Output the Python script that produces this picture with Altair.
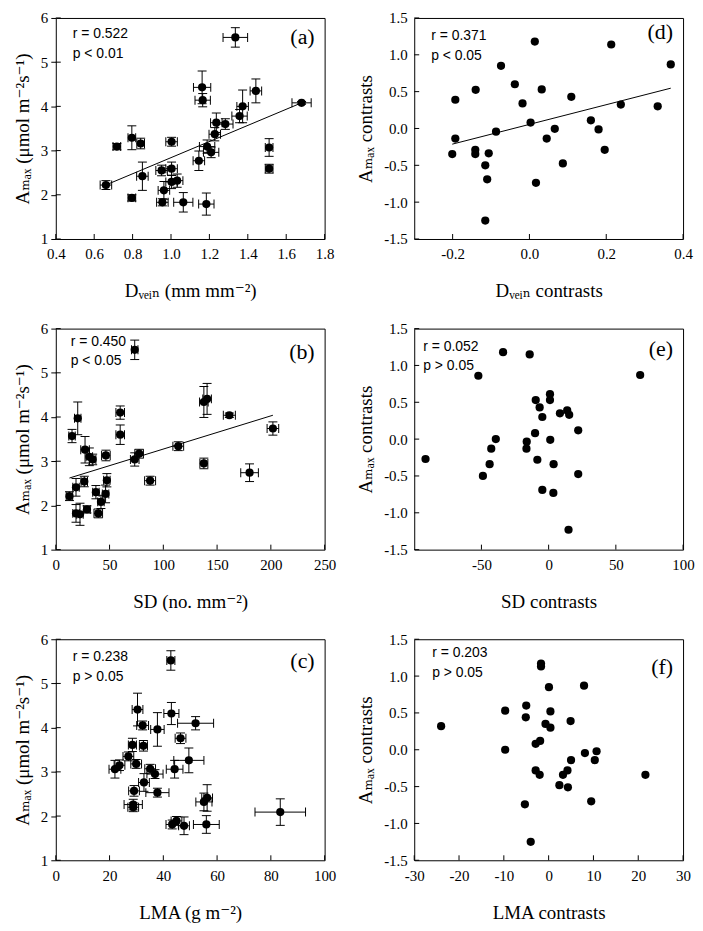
import altair as alt
import pandas as pd

# ---------------- data ----------------
# (a) A_max vs D_vein
a_x = [1.335, 1.162, 1.165, 1.442, 1.68, 1.373, 1.357, 1.236, 1.283, 1.228, 1.188, 1.209, 1.145, 1.511, 1.511,
       1.003, 0.796, 0.842, 0.718, 0.661, 0.851, 0.796, 0.951, 1.003, 0.963, 0.955, 1.003, 1.032, 1.064, 1.184]
a_y = [5.56, 4.43, 4.14, 4.35, 4.08, 4.0, 3.78, 3.63, 3.6, 3.37, 3.09, 2.96, 2.77, 3.07, 2.59,
       3.2, 3.29, 3.16, 3.09, 2.22, 2.42, 1.93, 2.55, 2.59, 2.1, 1.83, 2.29, 2.32, 1.83, 1.79]
a_xerr = [0.064, 0.045, 0.04, 0.03, 0.05, 0.03, 0.04, 0.03, 0.04, 0.03, 0.04, 0.04, 0.03, 0.02, 0.02,
          0.03, 0.02, 0.02, 0.02, 0.03, 0.03, 0.02, 0.03, 0.03, 0.03, 0.03, 0.03, 0.03, 0.05, 0.04]
a_yerr = [0.22, 0.37, 0.15, 0.27, 0.03, 0.37, 0.15, 0.22, 0.12, 0.15, 0.15, 0.12, 0.22, 0.2, 0.1,
          0.1, 0.27, 0.12, 0.07, 0.1, 0.32, 0.07, 0.12, 0.15, 0.2, 0.08, 0.15, 0.15, 0.22, 0.25]
a_line_x = [0.66, 1.68]
a_line_y = [2.22, 4.08]

# (b) A_max vs SD
b_x = [73.4, 20.4, 15.1, 27.2, 31.2, 34.3, 46.6, 59.9, 59.9, 73.4, 77.5, 113.9, 137.7, 140.7, 161.4,
       201.9, 137.7, 180.2, 87.7, 12.7, 18.8, 26.5, 47.5, 37.3, 46.3, 42.0, 29.0, 18.8, 22.5, 39.5]
b_y = [5.52, 3.97, 3.57, 3.26, 3.10, 3.04, 3.13, 4.10, 3.60, 3.04, 3.17, 3.34, 4.34, 4.41, 4.04,
       3.74, 2.95, 2.74, 2.56, 2.21, 2.41, 2.54, 2.57, 2.30, 2.26, 2.08, 1.91, 1.82, 1.80, 1.82]
b_xerr = [3, 3, 3, 4, 3, 3, 4, 4, 4, 4, 4, 5, 4, 4, 5.6,
          5.4, 3.7, 8.2, 5.1, 3, 3, 3, 3, 3, 3, 3, 3, 3, 3, 4]
b_yerr = [0.22, 0.37, 0.15, 0.3, 0.2, 0.12, 0.12, 0.15, 0.22, 0.15, 0.1, 0.1, 0.35, 0.35, 0.05,
          0.15, 0.12, 0.2, 0.1, 0.1, 0.2, 0.12, 0.15, 0.15, 0.2, 0.15, 0.08, 0.2, 0.25, 0.1]
b_line_x = [12.7, 201.9]
b_line_y = [2.62, 4.04]

# (c) A_max vs LMA
c_x = [42.8, 30.4, 43.0, 52.0, 32.3, 37.8, 46.4, 28.5, 32.6, 27.0, 29.9, 23.7, 22.0, 49.5, 44.2,
       35.1, 36.9, 32.8, 37.8, 29.1, 28.8, 28.8, 55.1, 56.3, 83.5, 43.3, 44.9, 47.7, 56.0]
c_y = [5.52, 4.41, 4.32, 4.10, 4.05, 3.96, 3.76, 3.61, 3.59, 3.35, 3.18, 3.15, 3.06, 3.26, 3.06,
       3.07, 2.95, 2.76, 2.53, 2.57, 2.26, 2.20, 2.32, 2.41, 2.09, 1.81, 1.89, 1.78, 1.81]
c_xerr = [1.5, 2, 2.8, 6.7, 2.2, 2.5, 2, 1.5, 1.5, 2, 2, 2, 2.2, 5.6, 3.1,
          2, 3, 2, 4.3, 2, 3.4, 2, 3, 2, 9.4, 2.3, 2, 2, 4.8]
c_yerr = [0.22, 0.37, 0.25, 0.15, 0.1, 0.38, 0.12, 0.15, 0.12, 0.1, 0.1, 0.12, 0.2, 0.28, 0.2,
          0.1, 0.1, 0.2, 0.1, 0.12, 0.12, 0.1, 0.2, 0.3, 0.3, 0.1, 0.1, 0.2, 0.2]

# (d) contrasts: A_max vs D_vein
d_x = [0.014, 0.213, 0.368, -0.074, -0.038, -0.14, 0.032, -0.193, -0.018, 0.109, 0.238, 0.334, 0.003, -0.087, 0.066,
       0.16, 0.18, 0.045, -0.193, -0.201, -0.141, -0.141, -0.106, 0.196, -0.115, 0.087, -0.11, 0.017, -0.115]
d_y = [1.18, 1.14, 0.87, 0.85, 0.6, 0.525, 0.53, 0.39, 0.34, 0.43, 0.325, 0.3, 0.08, -0.044, -0.004,
       0.11, -0.013, -0.137, -0.137, -0.347, -0.29, -0.347, -0.337, -0.29, -0.5, -0.475, -0.69, -0.737, -1.25]
d_line_x = [-0.201, 0.368]
d_line_y = [-0.213, 0.547]

# (e) contrasts: A_max vs SD
e_x = [-91.6, -33.9, -14.1, -52.3, 68.1, -9.6, 1.0, 1.0, -6.7, 8.4, 13.8, 15.3, -4.7, 22.0,
       -10.1, -39.3, -16.3, 1.2, -42.7, -16.5, -8.4, -43.9, 3.7, -48.9, 22.0, -4.7, 3.5, 14.8]
e_y = [-0.27, 1.18, 1.15, 0.86, 0.87, 0.53, 0.61, 0.53, 0.43, 0.35, 0.39, 0.33, 0.30, 0.12,
       0.08, 0.0, -0.035, -0.01, -0.13, -0.13, -0.28, -0.34, -0.34, -0.5, -0.475, -0.69, -0.73, -1.23]

# (f) contrasts: A_max vs LMA
f_x = [-24.0, -1.7, -1.7, 0.07, 7.9, -9.7, -5.0, 0.4, -5.1, 4.9, -0.7, 0.4, -2.9, -1.9, -9.7,
       8.1, 10.7, 5.0, 10.3, -2.9, -2.0, 4.2, 3.2, 21.6, 2.4, 4.3, -5.3, 9.5, -4.0]
f_y = [0.32, 1.17, 1.13, 0.85, 0.87, 0.53, 0.60, 0.52, 0.44, 0.39, 0.35, 0.30, 0.08, 0.12, 0.0,
       -0.045, -0.02, -0.14, -0.14, -0.28, -0.34, -0.28, -0.34, -0.34, -0.48, -0.51, -0.74, -0.70, -1.25]

# axis ticks
left_y_ticks = [1, 2, 3, 4, 5, 6]
right_y_ticks = [-1.5, -1.0, -0.5, 0.0, 0.5, 1.0, 1.5]
a_ticks = [0.4, 0.6, 0.8, 1.0, 1.2, 1.4, 1.6, 1.8]
b_ticks = [0, 50, 100, 150, 200, 250]
c_ticks = [0, 20, 40, 60, 80, 100]
d_ticks = [-0.2, 0.0, 0.2, 0.4]
e_ticks = [-50, 0, 50, 100]
f_ticks = [-30, -20, -10, 0, 10, 20, 30]

# texts
y_title_left = "A\u2098\u2090\u2093 (\u03bcmol m\u207b\u00b2s\u207b\u00b9)"
y_title_right = "A\u2098\u2090\u2093 contrasts"
x_title_a = "D\u1d65\u2091\u1d62\u2099 (mm mm\u207b\u00b2)"
x_title_b = "SD (no. mm\u207b\u00b2)"
x_title_c = "LMA (g m\u207b\u00b2)"
x_title_d = "D\u1d65\u2091\u1d62\u2099 contrasts"
x_title_e = "SD contrasts"
x_title_f = "LMA contrasts"

SERIF = "Liberation Serif, DejaVu Serif, serif"
SANS = "Liberation Sans, Arial, sans-serif"
W, H = 270, 222
DOT = 68


def label_expr(dec):
    return "replace(format(datum.value, '.%df'), '\u2212', '-')" % dec


def panel(x, y, xerr, yerr, line, xdom, xvals, xdec, ydom, yvals, ydec,
          xtitle, ytitle, rtext, ptext, tpos, lab, lpos, outer_yticks):
    xs = alt.Scale(domain=xdom, nice=False, zero=False)
    ys = alt.Scale(domain=ydom, nice=False, zero=False)
    xaxis = alt.Axis(values=xvals, title=xtitle, labelExpr=label_expr(xdec), ticks=False, domain=False,
                     grid=False, labelPadding=8, titlePadding=20, labelFlush=False, labelOverlap=False,
                     labelFont=SERIF, labelFontSize=15, titleFont=SERIF, titleFontSize=19,
                     titleFontWeight="normal", labelColor="black", titleColor="black")
    if outer_yticks:
        ytick_kw = dict(ticks=True, tickSize=5, tickColor="black", tickWidth=1, labelPadding=3)
    else:
        ytick_kw = dict(ticks=False, labelPadding=7)
    yaxis = alt.Axis(values=yvals, title=ytitle, labelExpr=label_expr(ydec), domain=False,
                     grid=False, titlePadding=8, labelFlush=False, labelOverlap=False,
                     labelFont=SERIF, labelFontSize=15, titleFont=SERIF, titleFontSize=19,
                     titleFontWeight="normal", labelColor="black", titleColor="black", **ytick_kw)

    def X(f):
        return alt.X(f + ":Q", scale=xs, axis=xaxis)

    def Y(f):
        return alt.Y(f + ":Q", scale=ys, axis=yaxis)

    df = pd.DataFrame({"x": x, "y": y})
    layers = []
    if xerr is not None:
        df["xlo"] = [a - b for a, b in zip(x, xerr)]
        df["xhi"] = [a + b for a, b in zip(x, xerr)]
        df["ylo"] = [a - b for a, b in zip(y, yerr)]
        df["yhi"] = [a + b for a, b in zip(y, yerr)]
        base = alt.Chart(df)
        layers += [
            base.mark_rule(color="black", strokeWidth=1).encode(x=X("x"), y=Y("ylo"), y2="yhi:Q"),
            base.mark_rule(color="black", strokeWidth=1).encode(x=X("xlo"), x2="xhi:Q", y=Y("y")),
        ]
        for fx, fy, orient in [("x", "ylo", "horizontal"), ("x", "yhi", "horizontal"),
                               ("xlo", "y", "vertical"), ("xhi", "y", "vertical")]:
            layers.append(base.mark_tick(color="black", orient=orient, size=9, thickness=1, opacity=1).encode(
                x=X(fx), y=Y(fy)))
    if line is not None:
        ldf = pd.DataFrame({"x": line[0], "y": line[1]})
        layers.append(alt.Chart(ldf).mark_line(color="black", strokeWidth=1).encode(x=X("x"), y=Y("y")))
    layers.append(alt.Chart(df).mark_circle(color="black", size=DOT, opacity=1).encode(x=X("x"), y=Y("y")))
    # inward tick marks
    layers.append(alt.Chart(pd.DataFrame({"x": xvals})).mark_rule(color="black", strokeWidth=1).encode(
        x=X("x"), y=alt.value(H), y2=alt.value(H - 5)))
    layers.append(alt.Chart(pd.DataFrame({"y": yvals})).mark_rule(color="black", strokeWidth=1).encode(
        y=Y("y"), x=alt.value(0), x2=alt.value(5)))
    # annotations
    layers.append(alt.Chart(pd.DataFrame({"t": [rtext]})).mark_text(
        align="left", baseline="middle", font=SANS, fontSize=14, color="black").encode(
        text="t:N", x=alt.value(tpos[0]), y=alt.value(tpos[1])))
    layers.append(alt.Chart(pd.DataFrame({"t": [ptext]})).mark_text(
        align="left", baseline="middle", font=SANS, fontSize=14, color="black").encode(
        text="t:N", x=alt.value(tpos[0]), y=alt.value(tpos[1] + 20)))
    layers.append(alt.Chart(pd.DataFrame({"t": [lab]})).mark_text(
        align="right", baseline="middle", font=SERIF, fontSize=22, color="black").encode(
        text="t:N", x=alt.value(W - 10), y=alt.value(lpos)))
    return alt.layer(*layers).properties(width=W, height=H)


pa = panel(a_x, a_y, a_xerr, a_yerr, (a_line_x, a_line_y), [0.4, 1.8], a_ticks, 1, [1, 6], left_y_ticks, 0,
           x_title_a, y_title_left, "r = 0.522", "p < 0.01", (17, 16), "(a)", 19, True)
pdd = panel(d_x, d_y, None, None, (d_line_x, d_line_y), [-0.3, 0.4], d_ticks, 1, [-1.5, 1.5], right_y_ticks, 1,
            x_title_d, y_title_right, "r = 0.371", "p < 0.05", (17, 18), "(d)", 14, False)
pb = panel(b_x, b_y, b_xerr, b_yerr, (b_line_x, b_line_y), [0, 250], b_ticks, 0, [1, 6], left_y_ticks, 0,
           x_title_b, y_title_left, "r = 0.450", "p < 0.05", (15, 13), "(b)", 24, True)
pe = panel(e_x, e_y, None, None, None, [-100, 100], e_ticks, 0, [-1.5, 1.5], right_y_ticks, 1,
           x_title_e, y_title_right, "r = 0.052", "p > 0.05", (9, 18), "(e)", 21, False)
pc = panel(c_x, c_y, c_xerr, c_yerr, None, [0, 100], c_ticks, 0, [1, 6], left_y_ticks, 0,
           x_title_c, y_title_left, "r = 0.238", "p > 0.05", (17, 18), "(c)", 22, True)
pf = panel(f_x, f_y, None, None, None, [-30, 30], f_ticks, 0, [-1.5, 1.5], right_y_ticks, 1,
           x_title_f, y_title_right, "r = 0.203", "p > 0.05", (18, 14), "(f)", 28, False)

chart = alt.concat(pa, pdd, pb, pe, pc, pf, columns=2, spacing=90, bounds="flush").properties(
    padding={"left": 5, "top": 0, "right": 0, "bottom": 0},
    background="white",
).configure_view(stroke="black", strokeWidth=1)

chart.save("out.html", embed_options={"renderer": "svg", "actions": False})
